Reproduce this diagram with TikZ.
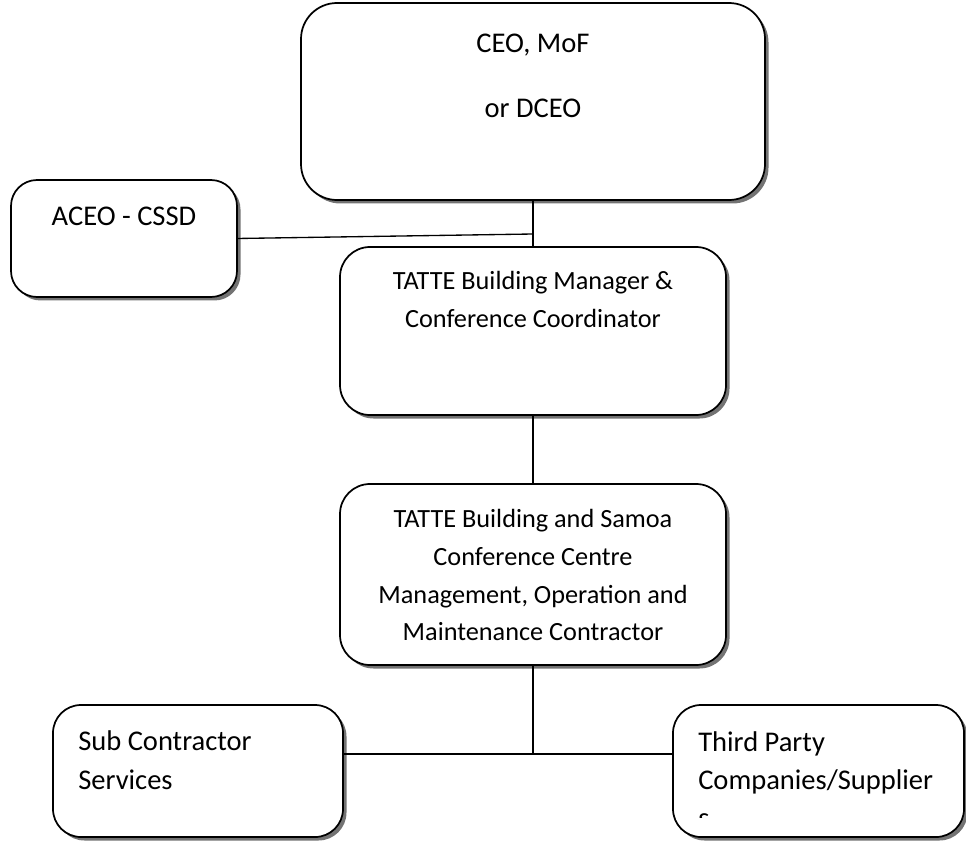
\documentclass[tikz,border=0pt]{standalone}
\usepackage{fontspec}
\setmainfont{Carlito}
\usetikzlibrary{shadows}
\def\u{0.75pt}
\tikzset{
  orgbox/.style={draw=black, line width=1.3pt, fill=white, rounded corners=30*\u,
    inner sep=0pt, outer sep=0pt,
    drop shadow={shadow xshift=3.5*\u, shadow yshift=-3.5*\u, fill=black!55, opacity=1}},
  conn/.style={draw=black, line width=1pt},
  bigtxt/.style={font=\fontsize{21.4pt}{26pt}\selectfont, inner sep=0pt},
  midtxt/.style={font=\fontsize{19.7pt}{24pt}\selectfont, inner sep=0pt}
}
\begin{document}
\begin{tikzpicture}[x=0.75pt, y=-0.75pt]
\useasboundingbox (0,0) rectangle (966,841);
% boxes
\node[orgbox, rounded corners=36*\u, minimum width=464*\u, minimum height=197*\u] (ceo) at (533,101.5) {};
\node[orgbox, rounded corners=26*\u, minimum width=226*\u, minimum height=117*\u] (aceo) at (124,238.5) {};
\node[orgbox, minimum width=386*\u, minimum height=168*\u] (mgr) at (533,331) {};
\node[orgbox, minimum width=386*\u, minimum height=181*\u] (ctr) at (533,574.5) {};
\node[orgbox, rounded corners=28*\u, minimum width=290*\u, minimum height=132*\u] (sub) at (198,771) {};
\node[orgbox, rounded corners=28*\u, minimum width=291*\u, minimum height=132*\u] (third) at (818.5,771) {};
% texts
\node[bigtxt, anchor=base] (t1) at (533,53) {CEO, MoF};
\node[bigtxt, anchor=base] (t2) at (533,118) {or DCEO};
\node[bigtxt, anchor=base] (t3) at (124,225.5) {ACEO - CSSD};
\node[midtxt, anchor=base] (t4) at (533,290) {TATTE Building Manager \&};
\node[midtxt, anchor=base] (t5) at (533,327) {Conference Coordinator};
\node[midtxt, anchor=base] (t6) at (533,527) {TATTE Building and Samoa};
\node[midtxt, anchor=base] (t7) at (533,565) {Conference Centre};
\node[midtxt, anchor=base] (t8) at (533,603) {Management, Operation and};
\node[midtxt, anchor=base] (t9) at (533,640) {Maintenance Contractor};
\node[bigtxt, anchor=base west] (t10) at (78,750) {Sub Contractor};
\node[bigtxt, anchor=base west] (t11) at (78,789) {Services};
\begin{scope}
\clip (673,705) rectangle (964,817);
\node[bigtxt, anchor=base west] (t12) at (698,751) {Third Party};
\node[bigtxt, anchor=base west] (t13) at (698,789) {Companies/Supplier};
\node[bigtxt, anchor=base west] (t14) at (698,827) {s};
\end{scope}
% connectors
\coordinate (j1) at (533,234);
\coordinate (j2) at (533,754);
\draw[conn] (ceo.south) -- (mgr.north);
\draw[conn] (aceo.east) -- (j1);
\draw[conn] (mgr.south) -- (ctr.north);
\draw[conn] (ctr.south) -- (j2);
\draw[conn] (sub.east |- j2) -- (third.west |- j2);
\end{tikzpicture}
\end{document}
